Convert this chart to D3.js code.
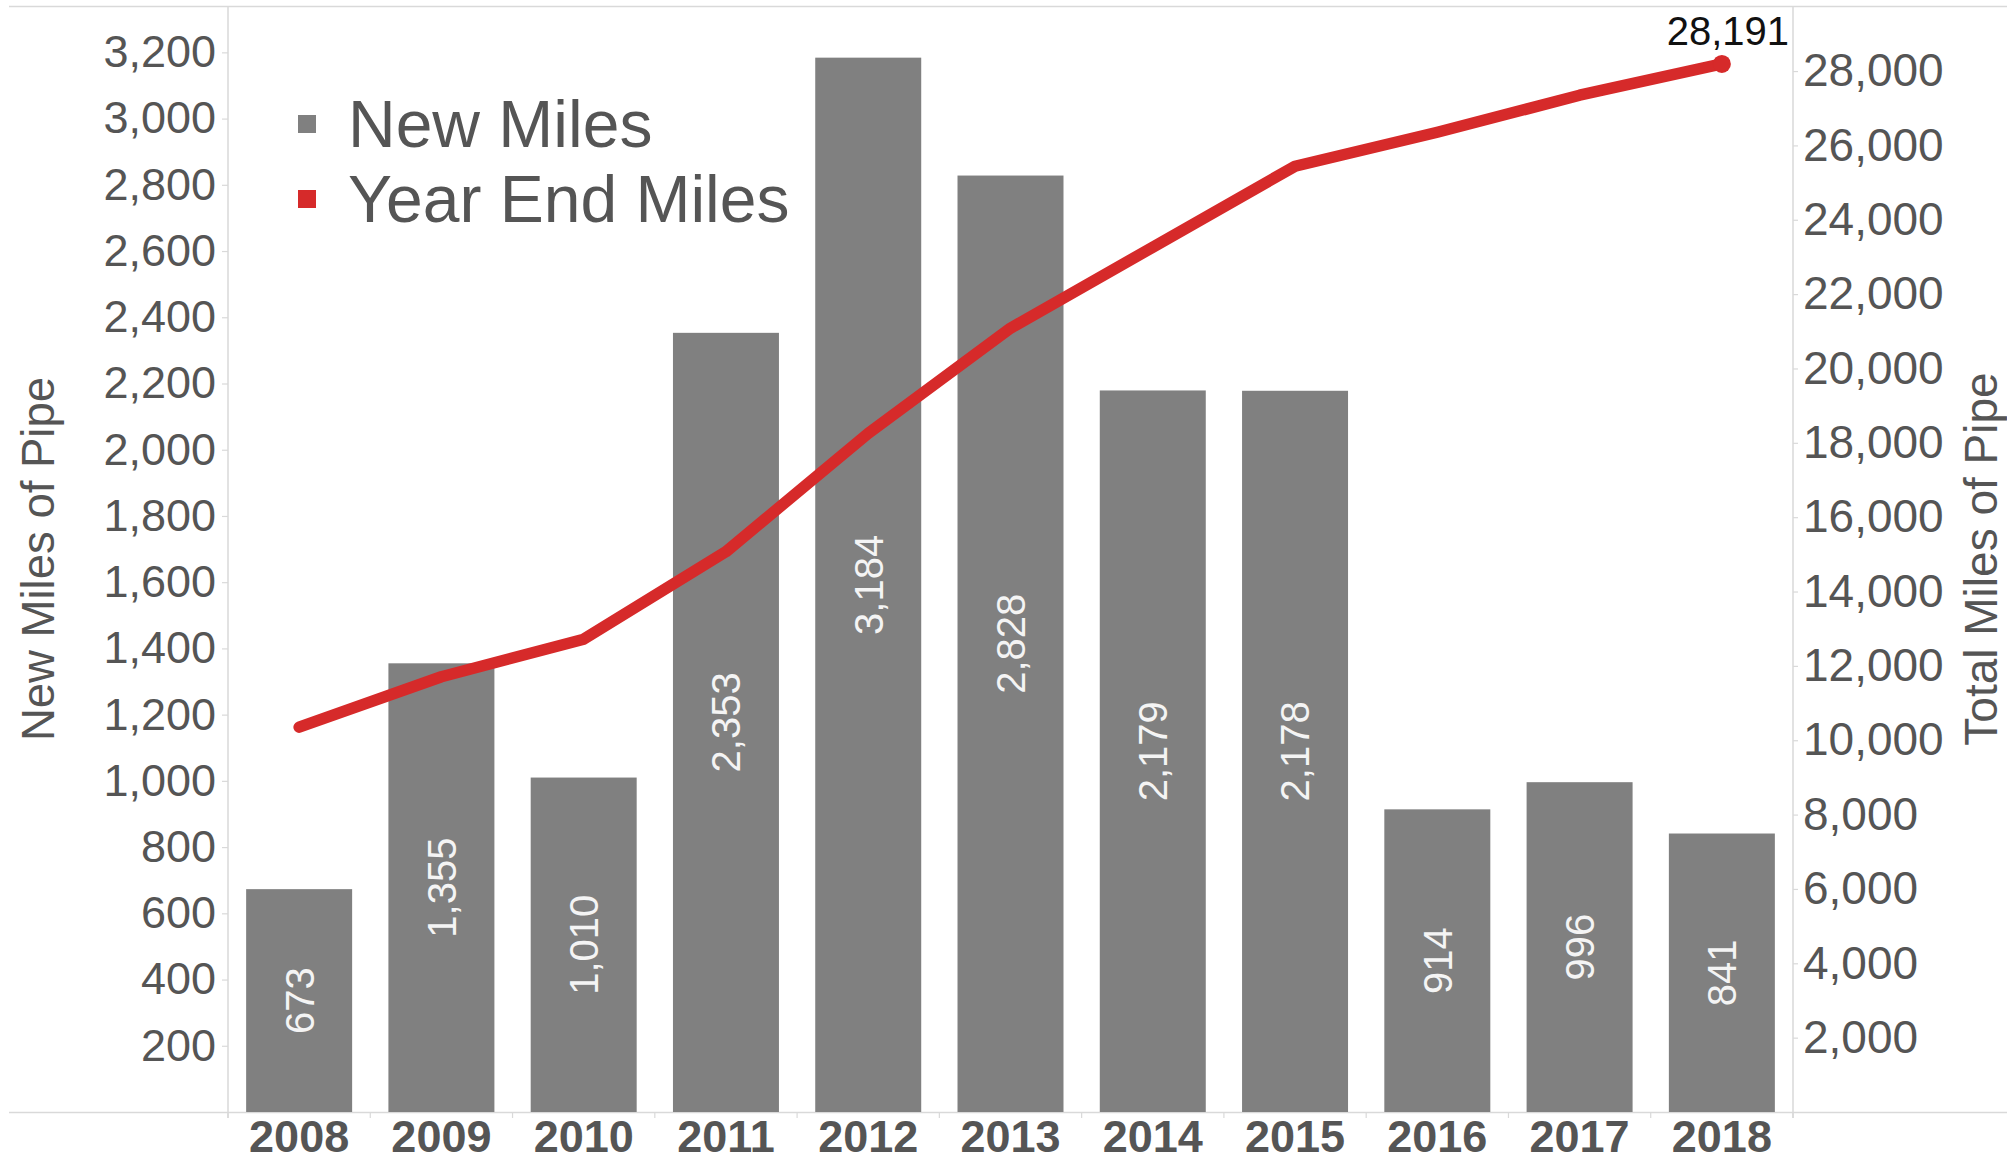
<!DOCTYPE html>
<html>
<head>
<meta charset="utf-8">
<script src="https://cdn.jsdelivr.net/npm/d3@7"></script>
<style>
  html, body { margin: 0; padding: 0; background: #fff; }
  svg { display: block; font-family: "Liberation Sans", Arial, sans-serif; }
</style>
</head>
<body>
<svg id="chart" width="2007" height="1163"></svg>
<script>
// ---- data ----
const years = ["2008","2009","2010","2011","2012","2013","2014","2015","2016","2017","2018"];
const newMiles = [673, 1355, 1010, 2353, 3184, 2828, 2179, 2178, 914, 996, 841];
const yearEndMiles = [10353, 11708, 12718, 15071, 18255, 21083, 23262, 25440, 26354, 27350, 28191];
const leftTicks = [200,400,600,800,1000,1200,1400,1600,1800,2000,2200,2400,2600,2800,3000,3200];
const rightTicks = [2000,4000,6000,8000,10000,12000,14000,16000,18000,20000,22000,24000,26000,28000];
const legendLabels = ["New Miles", "Year End Miles"];
const leftTitle = "New Miles of Pipe";
const rightTitle = "Total Miles of Pipe";

// ---- layout ----
const W = 2007, H = 1163;
const xL = 228, xR = 1793, yTop = 6, yBot = 1112;
const barColor = "#808080", lineColor = "#d62a2a", textColor = "#555555", axisColor = "#d9d9d9";

const svg = d3.select("#chart");
const fmt = d3.format(",");

const x = d3.scaleBand().domain(years).range([xL, xR]).paddingInner(0.255).paddingOuter(0.1275);
const yL = d3.scaleLinear().domain([0, 3340]).range([yBot, yTop]);
const yR = d3.scaleLinear().domain([0, 29750]).range([yBot, yTop]);

// frame lines
svg.append("line").attr("x1", 9).attr("x2", W).attr("y1", yTop + 0.5).attr("y2", yTop + 0.5)
  .attr("stroke", axisColor).attr("stroke-width", 1.5);
svg.append("line").attr("x1", 9).attr("x2", W).attr("y1", yBot + 0.5).attr("y2", yBot + 0.5)
  .attr("stroke", axisColor).attr("stroke-width", 1.5);

// left axis
const gL = svg.append("g").attr("transform", `translate(${xL},0)`)
  .call(d3.axisLeft(yL).tickValues(leftTicks).tickFormat(fmt).tickSize(6).tickPadding(6));
gL.select(".domain").remove();
gL.append("line").attr("x1", 0).attr("x2", 0).attr("y1", yTop).attr("y2", yBot + 6)
  .attr("stroke", axisColor).attr("stroke-width", 1.5);
gL.selectAll(".tick line").attr("stroke", axisColor).attr("stroke-width", 1.2);
gL.selectAll(".tick text").attr("fill", textColor).attr("font-size", 45)
  .attr("font-family", "Liberation Sans, Arial, sans-serif");

// right axis
const gR = svg.append("g").attr("transform", `translate(${xR},0)`)
  .call(d3.axisRight(yR).tickValues(rightTicks).tickFormat(fmt).tickSize(5).tickPadding(5));
gR.select(".domain").remove();
gR.append("line").attr("x1", 0).attr("x2", 0).attr("y1", yTop).attr("y2", yBot + 6)
  .attr("stroke", axisColor).attr("stroke-width", 1.5);
gR.selectAll(".tick line").attr("stroke", axisColor).attr("stroke-width", 1.2);
gR.selectAll(".tick text").attr("fill", textColor).attr("font-size", 46)
  .attr("font-family", "Liberation Sans, Arial, sans-serif");

// x axis
const gX = svg.append("g").attr("transform", `translate(0,${yBot})`)
  .call(d3.axisBottom(x).tickSize(0).tickPadding(8));
gX.select(".domain").remove();
gX.selectAll(".tick text").attr("fill", textColor).attr("font-size", 45).attr("font-weight", "bold")
  .attr("font-family", "Liberation Sans, Arial, sans-serif");
// boundary ticks
const step = x.step();
gX.selectAll(".bt").data(d3.range(years.length + 1)).enter().append("line")
  .attr("x1", i => xL + i * step).attr("x2", i => xL + i * step)
  .attr("y1", 0).attr("y2", 6).attr("stroke", axisColor).attr("stroke-width", 1.2);

// bars
svg.append("g").selectAll("rect").data(years).enter().append("rect")
  .attr("x", d => x(d)).attr("width", x.bandwidth())
  .attr("y", (d, i) => yL(newMiles[i])).attr("height", (d, i) => yBot - yL(newMiles[i]))
  .attr("fill", barColor);

// bar labels
svg.append("g").selectAll("text").data(years).enter().append("text")
  .attr("transform", (d, i) => `translate(${x(d) + x.bandwidth() / 2},${(yL(newMiles[i]) + yBot) / 2}) rotate(-90)`)
  .attr("text-anchor", "middle").attr("dy", "0.36em")
  .attr("fill", "#f4f4f4").attr("font-size", 40)
  .text((d, i) => fmt(newMiles[i]));

// line
const cx = d => x(d) + x.bandwidth() / 2;
const line = d3.line().x((d, i) => cx(years[i])).y(d => yR(d));
svg.append("path").datum(yearEndMiles).attr("d", line)
  .attr("fill", "none").attr("stroke", lineColor).attr("stroke-width", 11.5)
  .attr("stroke-linecap", "round").attr("stroke-linejoin", "round");
const last = yearEndMiles.length - 1;
svg.append("circle").attr("cx", cx(years[last])).attr("cy", yR(yearEndMiles[last])).attr("r", 9)
  .attr("fill", lineColor);
svg.append("text").attr("x", cx(years[last]) + 6).attr("y", yR(yearEndMiles[last]) - 19)
  .attr("text-anchor", "middle").attr("font-size", 40).attr("fill", "#111")
  .text(fmt(yearEndMiles[last]));

// legend
const legColors = [barColor, lineColor];
const leg = svg.append("g");
legendLabels.forEach((lab, i) => {
  const by = 147 + i * 75;
  leg.append("rect").attr("x", 298).attr("y", by - 32).attr("width", 18).attr("height", 18).attr("fill", legColors[i]);
  leg.append("text").attr("x", 348).attr("y", by).attr("font-size", 66).attr("fill", textColor).text(lab);
});

// axis titles
svg.append("text").attr("transform", `translate(38,${(yTop + yBot) / 2}) rotate(-90)`)
  .attr("text-anchor", "middle").attr("dy", "0.36em").attr("font-size", 45.5).attr("fill", textColor)
  .text(leftTitle);
svg.append("text").attr("transform", `translate(1980,${(yTop + yBot) / 2}) rotate(-90)`)
  .attr("text-anchor", "middle").attr("dy", "0.36em").attr("font-size", 46).attr("fill", textColor)
  .text(rightTitle);
</script>
</body>
</html>
